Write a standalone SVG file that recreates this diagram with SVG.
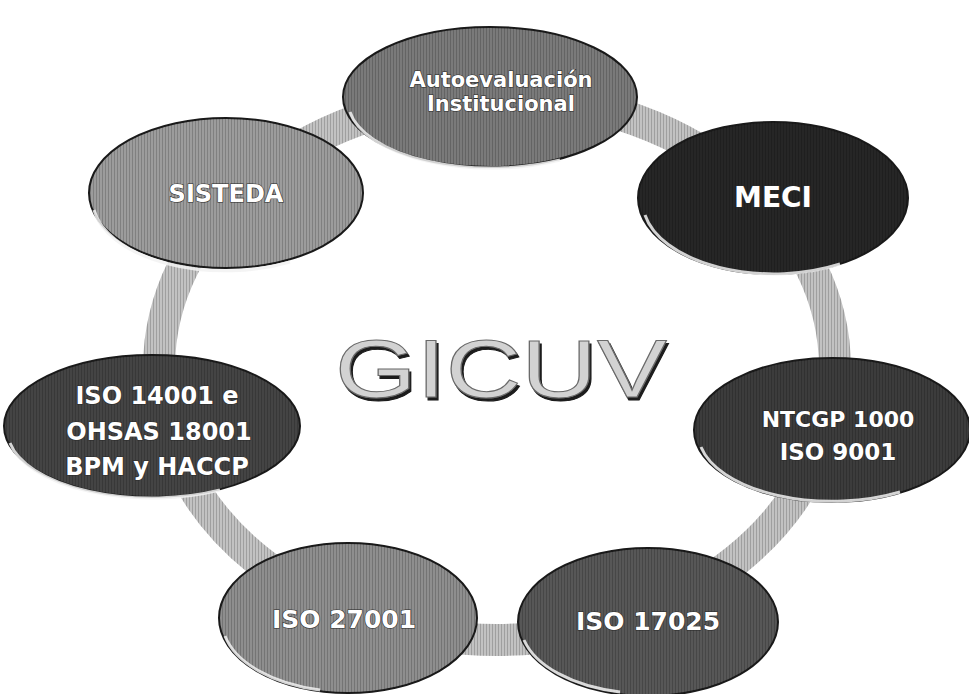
<svg xmlns="http://www.w3.org/2000/svg" width="969" height="694" viewBox="0 0 969 694">
<defs>
<style>
.node{stroke:#1a1a1a;stroke-width:2}
.rim{fill:none;stroke:#f2f2f2;stroke-width:3;opacity:0.85}
.lbl{font-family:"DejaVu Sans",Verdana,sans-serif;font-weight:bold;fill:#ffffff;stroke:#2a2a2a;stroke-width:1.2;paint-order:stroke;text-anchor:middle}
.ring{fill:none;stroke:#c2c2c2;stroke-width:32}
.title{font-family:"Liberation Sans",Arial,sans-serif;font-size:82px;text-anchor:middle}
</style>
<pattern id="tex" width="3" height="4" patternUnits="userSpaceOnUse">
<rect width="3" height="4" fill="none"/>
<rect x="0" y="0" width="1" height="4" fill="#000" opacity="0.18"/>
</pattern>
<filter id="shadow" x="-10%" y="-20%" width="120%" height="140%">
<feOffset in="SourceAlpha" dx="2" dy="3" result="off"/>
<feFlood flood-color="#1a1a1a"/>
<feComposite in2="off" operator="in" result="sh"/>
<feMerge><feMergeNode in="sh"/><feMergeNode in="SourceGraphic"/></feMerge>
</filter>
</defs>
<rect width="969" height="694" fill="#ffffff"/>
<g id="connectors">
<ellipse class="ring" cx="497" cy="368" rx="338" ry="272"/>
<ellipse cx="497" cy="368" rx="338" ry="272" fill="none" stroke="url(#tex)" stroke-width="32"/>
</g>
<g id="node-autoevaluacion">
<ellipse class="node" cx="490" cy="97" rx="147" ry="70" fill="#7a7a7a"/>
<ellipse cx="490" cy="97" rx="147" ry="70" fill="url(#tex)"/>
<path class="rim" d="M350,112 A143,66 0 0 0 560,160"/>
<text class="lbl" x="501" y="87" font-size="21">Autoevaluación</text>
<text class="lbl" x="501" y="111" font-size="21">Institucional</text>
</g>
<g id="node-meci">
<ellipse class="node" cx="773" cy="198" rx="135" ry="76" fill="#262626"/>
<ellipse cx="773" cy="198" rx="135" ry="76" fill="url(#tex)"/>
<path class="rim" d="M645,215 A131,72 0 0 0 840,264"/>
<text class="lbl" x="773" y="207" font-size="28">MECI</text>
</g>
<g id="node-ntcgp">
<ellipse class="node" cx="832" cy="430" rx="138" ry="72" fill="#3c3c3c"/>
<ellipse cx="832" cy="430" rx="138" ry="72" fill="url(#tex)"/>
<path class="rim" d="M701,447 A134,68 0 0 0 900,492"/>
<text class="lbl" x="838" y="427" font-size="22">NTCGP 1000</text>
<text class="lbl" x="838" y="460" font-size="23">ISO 9001</text>
</g>
<g id="node-iso17025">
<ellipse class="node" cx="648" cy="622" rx="130" ry="74" fill="#575757"/>
<ellipse cx="648" cy="622" rx="130" ry="74" fill="url(#tex)"/>
<path class="rim" d="M524,640 A126,70 0 0 0 620,692"/>
<text class="lbl" x="648" y="630" font-size="25">ISO 17025</text>
</g>
<g id="node-iso27001">
<ellipse class="node" cx="348" cy="618" rx="129" ry="75" fill="#8e8e8e"/>
<ellipse cx="348" cy="618" rx="129" ry="75" fill="url(#tex)"/>
<path class="rim" d="M225,636 A125,71 0 0 0 320,690"/>
<text class="lbl" x="344" y="628" font-size="25">ISO 27001</text>
</g>
<g id="node-iso14001">
<ellipse class="node" cx="152" cy="426" rx="148" ry="71" fill="#444444"/>
<ellipse cx="152" cy="426" rx="148" ry="71" fill="url(#tex)"/>
<path class="rim" d="M10,443 A144,67 0 0 0 220,490"/>
<text class="lbl" x="157" y="404" font-size="24">ISO 14001 e</text>
<text class="lbl" x="159" y="440" font-size="24">OHSAS 18001</text>
<text class="lbl" x="157" y="475" font-size="24">BPM y HACCP</text>
</g>
<g id="node-sisteda">
<ellipse class="node" cx="226" cy="193" rx="137" ry="75" fill="#9c9c9c"/>
<ellipse cx="226" cy="193" rx="137" ry="75" fill="url(#tex)"/>
<path class="rim" d="M94,210 A133,71 0 0 0 290,262"/>
<text class="lbl" x="226" y="202" font-size="24">SISTEDA</text>
</g>
<g id="title">
<text class="title" x="501" y="397" textLength="332" lengthAdjust="spacingAndGlyphs" fill="#d2d2d2" stroke="#6a6a6a" stroke-width="1" filter="url(#shadow)">GICUV</text>
</g>
</svg>
